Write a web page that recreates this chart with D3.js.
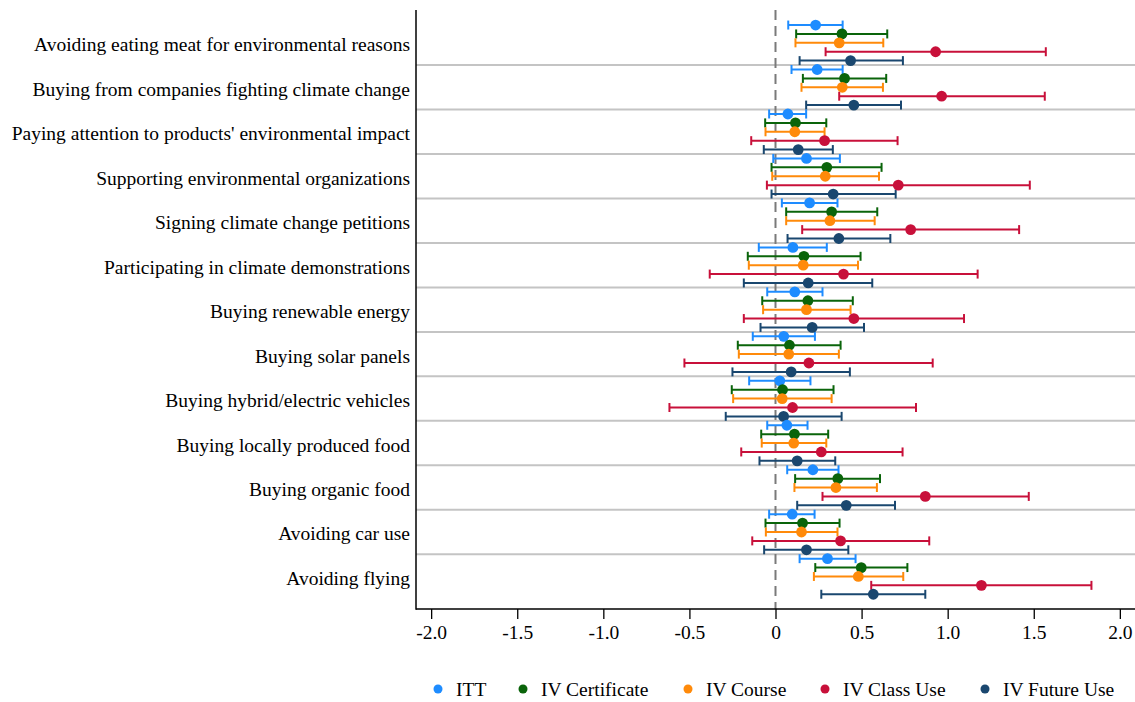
<!DOCTYPE html>
<html>
<head>
<meta charset="utf-8">
<script src="https://cdn.jsdelivr.net/npm/d3@7"></script>
<style>
  html, body { margin: 0; padding: 0; background: #ffffff; }
  svg { display: block; }
  svg text { font-family: "Liberation Serif", "Times New Roman", serif; }
</style>
</head>
<body>
<svg id="chart" width="1135" height="702"></svg>
<script>
// Outcome categories, top to bottom
const categories = [
  "Avoiding eating meat for environmental reasons",
  "Buying from companies fighting climate change",
  "Paying attention to products' environmental impact",
  "Supporting environmental organizations",
  "Signing climate change petitions",
  "Participating in climate demonstrations",
  "Buying renewable energy",
  "Buying solar panels",
  "Buying hybrid/electric vehicles",
  "Buying locally produced food",
  "Buying organic food",
  "Avoiding car use",
  "Avoiding flying"
];

const seriesNames = ["ITT", "IV Certificate", "IV Course", "IV Class Use", "IV Future Use"];
const seriesColors = ["#1e8cff", "#0a640a", "#ff8a0a", "#c8103a", "#1a476f"];

// Point estimates per series (one value per category)
const estITT    = [0.233, 0.242, 0.072, 0.180, 0.198, 0.101, 0.112, 0.048, 0.025, 0.066, 0.217, 0.097, 0.302];
const estCert   = [0.386, 0.401, 0.116, 0.298, 0.326, 0.165, 0.188, 0.081, 0.041, 0.110, 0.362, 0.157, 0.498];
const estCourse = [0.370, 0.388, 0.112, 0.289, 0.316, 0.161, 0.180, 0.077, 0.039, 0.106, 0.351, 0.151, 0.481];
const estClass  = [0.930, 0.965, 0.285, 0.713, 0.785, 0.395, 0.455, 0.194, 0.099, 0.266, 0.870, 0.378, 1.196];
const estFuture = [0.436, 0.455, 0.132, 0.335, 0.368, 0.190, 0.213, 0.091, 0.047, 0.126, 0.411, 0.180, 0.568];

// Lower confidence bounds
const loITT    = [0.074, 0.093, -0.037, -0.013, 0.037, -0.097, -0.048, -0.132, -0.153, -0.048, 0.068, -0.037, 0.140];
const loCert   = [0.120, 0.159, -0.060, -0.023, 0.062, -0.161, -0.077, -0.219, -0.254, -0.083, 0.114, -0.058, 0.231];
const loCourse = [0.116, 0.151, -0.058, -0.019, 0.062, -0.155, -0.072, -0.213, -0.246, -0.080, 0.110, -0.056, 0.223];
const loClass  = [0.291, 0.370, -0.141, -0.050, 0.155, -0.382, -0.184, -0.529, -0.616, -0.199, 0.273, -0.135, 0.556];
const loFuture = [0.140, 0.178, -0.068, -0.023, 0.070, -0.184, -0.087, -0.250, -0.289, -0.093, 0.126, -0.066, 0.266];

// Upper confidence bounds
const hiITT    = [0.390, 0.390, 0.178, 0.374, 0.360, 0.298, 0.273, 0.229, 0.203, 0.186, 0.366, 0.227, 0.465];
const hiCert   = [0.649, 0.643, 0.295, 0.616, 0.591, 0.494, 0.449, 0.378, 0.337, 0.306, 0.607, 0.372, 0.766];
const hiCourse = [0.626, 0.624, 0.285, 0.601, 0.576, 0.479, 0.436, 0.368, 0.326, 0.295, 0.589, 0.360, 0.742];
const hiClass  = [1.570, 1.564, 0.709, 1.477, 1.415, 1.174, 1.095, 0.913, 0.816, 0.738, 1.471, 0.893, 1.835];
const hiFuture = [0.740, 0.729, 0.333, 0.698, 0.667, 0.562, 0.514, 0.432, 0.384, 0.347, 0.694, 0.423, 0.870];

const xTicks = [-2, -1.5, -1, -0.5, 0, 0.5, 1, 1.5, 2];
const xTickLabels = ["-2.0", "-1.5", "-1.0", "-0.5", "0", "0.5", "1.0", "1.5", "2.0"];

const estimates = [estITT, estCert, estCourse, estClass, estFuture];
const lowers = [loITT, loCert, loCourse, loClass, loFuture];
const uppers = [hiITT, hiCert, hiCourse, hiClass, hiFuture];

const rows = [];
categories.forEach((cat, ci) => {
  seriesNames.forEach((s, si) => {
    rows.push({ cat, series: s, si, est: estimates[si][ci], lo: lowers[si][ci], hi: uppers[si][ci] });
  });
});

const FONT = "Liberation Serif, Times New Roman, serif";
const FS = 19.5;

const svg = d3.select("#chart");
const plot = { left: 416, right: 1135, top: 10, bottom: 609 };

const x = d3.scaleLinear().domain([-2.088, 2.088]).range([plot.left, plot.right]);
const yGroup = d3.scaleBand().domain(categories).range([20.6, 598.7]).paddingInner(0).paddingOuter(0);
const ySub = d3.scaleBand().domain(seriesNames).range([0, yGroup.bandwidth()]);

// Separators between category groups
svg.append("g")
  .selectAll("line")
  .data(categories.slice(1))
  .join("line")
  .attr("x1", plot.left)
  .attr("x2", plot.right)
  .attr("y1", d => yGroup(d))
  .attr("y2", d => yGroup(d))
  .attr("stroke", "#c4c4c4")
  .attr("stroke-width", 2);

// Zero reference line
svg.append("line")
  .attr("x1", x(0)).attr("x2", x(0))
  .attr("y1", plot.top).attr("y2", plot.bottom)
  .attr("stroke", "#7a7a7a")
  .attr("stroke-width", 2)
  .attr("stroke-dasharray", "10,6");

// Confidence intervals and point estimates
const marks = svg.append("g");
const yOf = d => yGroup(d.cat) + ySub(d.series) + ySub.bandwidth() / 2;
const capH = 4.5;

marks.selectAll("line.ci")
  .data(rows)
  .join("line")
  .attr("class", "ci")
  .attr("x1", d => x(d.lo)).attr("x2", d => x(d.hi))
  .attr("y1", yOf).attr("y2", yOf)
  .attr("stroke", d => seriesColors[d.si])
  .attr("stroke-width", 2);

marks.selectAll("line.caplo")
  .data(rows)
  .join("line")
  .attr("class", "caplo")
  .attr("x1", d => x(d.lo)).attr("x2", d => x(d.lo))
  .attr("y1", d => yOf(d) - capH).attr("y2", d => yOf(d) + capH)
  .attr("stroke", d => seriesColors[d.si])
  .attr("stroke-width", 2);

marks.selectAll("line.caphi")
  .data(rows)
  .join("line")
  .attr("class", "caphi")
  .attr("x1", d => x(d.hi)).attr("x2", d => x(d.hi))
  .attr("y1", d => yOf(d) - capH).attr("y2", d => yOf(d) + capH)
  .attr("stroke", d => seriesColors[d.si])
  .attr("stroke-width", 2);

marks.selectAll("circle")
  .data(rows)
  .join("circle")
  .attr("cx", d => x(d.est))
  .attr("cy", yOf)
  .attr("r", 5.4)
  .attr("fill", d => seriesColors[d.si]);

// X axis
const xAxis = svg.append("g")
  .attr("transform", `translate(0,${plot.bottom})`)
  .call(d3.axisBottom(x).tickValues(xTicks)
    .tickFormat((d, i) => xTickLabels[i])
    .tickSizeOuter(0).tickSizeInner(10).tickPadding(6))
  .attr("font-family", FONT)
  .attr("font-size", FS);
xAxis.select(".domain").attr("stroke", "#000").attr("stroke-width", 1.5)
  .attr("d", `M${plot.left},0H${plot.right}`);
xAxis.selectAll(".tick line").attr("stroke", "#000").attr("stroke-width", 1.3);
xAxis.selectAll(".tick text").attr("fill", "#000");

// Y axis line
svg.append("line")
  .attr("x1", plot.left).attr("x2", plot.left)
  .attr("y1", plot.top).attr("y2", plot.bottom + 0.75)
  .attr("stroke", "#000").attr("stroke-width", 1.5);

// Category labels
svg.append("g")
  .selectAll("text")
  .data(categories)
  .join("text")
  .attr("x", 410)
  .attr("y", d => yGroup(d) + yGroup.bandwidth() / 2 + 2)
  .attr("text-anchor", "end")
  .attr("dominant-baseline", "central")
  .attr("font-family", FONT)
  .attr("font-size", FS)
  .attr("fill", "#000")
  .text(d => d);

// Legend
const legendX = [438, 523, 688, 825, 985];
const legend = svg.append("g").attr("transform", "translate(0,689)");
const items = legend.selectAll("g")
  .data(seriesNames)
  .join("g")
  .attr("transform", (d, i) => `translate(${legendX[i]},0)`);
items.append("circle").attr("r", 4.5).attr("fill", (d, i) => seriesColors[i]);
items.append("text")
  .attr("x", 18)
  .attr("dominant-baseline", "central")
  .attr("font-family", FONT)
  .attr("font-size", FS)
  .attr("fill", "#000")
  .text(d => d);
</script>
</body>
</html>
